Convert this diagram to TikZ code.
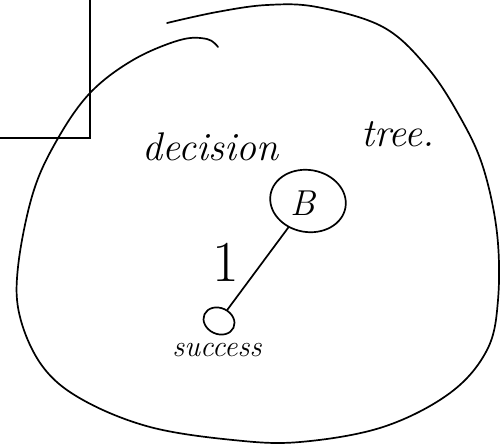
\documentclass[tikz,border=0pt]{standalone}
\usepackage{fontspec}
\usetikzlibrary{shapes.geometric}
\begin{document}
\begin{tikzpicture}[x=1pt,y=-1pt,
  ink/.style={line width=1.7pt,line cap=round,line join=round},
  thin ink/.style={line width=1.3pt},
  hand/.style={font=\itshape\fontsize{40}{42}\selectfont},
  treenode/.style={draw,ellipse,ink,inner sep=0pt}]
\useasboundingbox (0,0) rectangle (503,444);
% box in the upper left corner
\coordinate (boxtop) at (90,0);
\coordinate (boxcorner) at (90,138);
\coordinate (boxleft) at (0,138);
\draw[thin ink] (boxtop) -- (boxcorner) -- (boxleft);
% the big hand-drawn outline
\draw[ink] plot[smooth,tension=0.6] coordinates {
 (218,47) (207,39) (180,40) (133,60) (90,93) (57,140) (33,193) (18,267)
 (20,317) (43,367) (83,400) (150,427) (233,440) (300,442) (383,427)
 (450,393) (487,350) (498,300) (497,233) (483,167) (460,117) (427,67)
 (383,27) (317,7) (267,5) (217,12) (167,23)};
% texts
\node[hand] (t1) at (210,147) {decision};
\node[hand] (t2) at (398,134) {tree.};
% tree
\node[treenode,minimum width=76pt,minimum height=62pt,rotate=-10] (B) at (308,201) {};
\node[font=\itshape\fontsize{36}{38}\selectfont] (Bl) at (303,203) {B};
\node[treenode,minimum width=32pt,minimum height=26pt,rotate=-25] (s) at (219,321) {};
\node[font=\itshape\fontsize{30}{32}\selectfont] (sl) at (217,350) {success};
\draw[ink] (B) -- (s);
\node[font=\fontsize{58}{60}\selectfont] (one) at (226,262) {1};
\end{tikzpicture}
\end{document}
